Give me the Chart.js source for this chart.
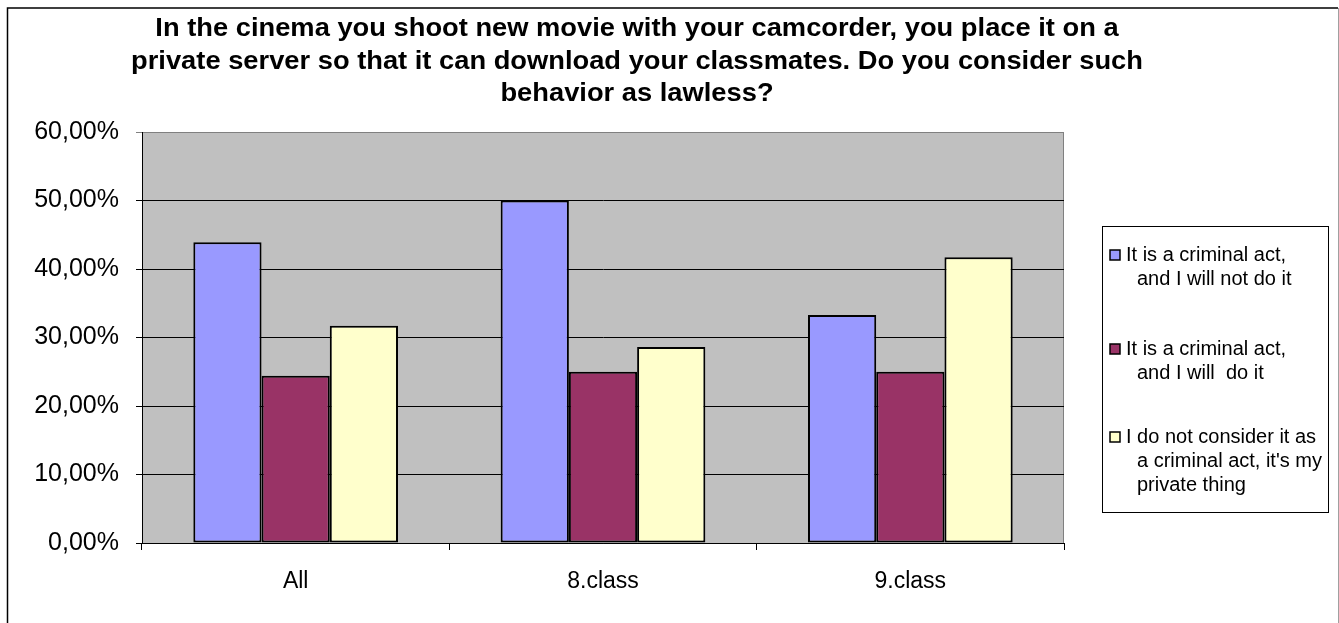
<!DOCTYPE html>
<html>
<head>
<meta charset="utf-8">
<script src="https://cdn.jsdelivr.net/npm/chart.js@4.4.1/dist/chart.umd.min.js"></script>
<style>
  html, body { margin: 0; padding: 0; background: #fff; }
  #wrap { width: 1339px; height: 623px; position: relative; }
</style>
</head>
<body>
<div id="wrap"><canvas id="c"></canvas></div>
<script>
"use strict";

// data
const categories = ["All", "8.class", "9.class"];
const criminalNotDo = [43.9, 50.0, 33.3];
const criminalDo = [24.4, 25.0, 25.0];
const notCriminal = [31.7, 28.6, 41.7];
const seriesLines = [
  ["It is a criminal act,", "and I will not do it"],
  ["It is a criminal act,", "and I will  do it"],
  ["I do not consider it as", "a criminal act, it's my", "private thing"],
];
const titleLines = [
  "In the cinema you shoot new movie with your camcorder, you place it on a",
  "private server so that it can download your classmates. Do you consider such",
  "behavior as lawless?",
];
const yTicks = [0, 10, 20, 30, 40, 50, 60];

// excel-ish palette
const C_BLUE = "#9999FF";
const C_PLUM = "#993366";
const C_CREAM = "#FFFFCC";
const C_PLOT = "#C0C0C0";
const FONT = '"Liberation Sans", Arial, Helvetica, sans-serif';

const frame = {
  id: "frame",
  beforeDraw(chart) {
    const { ctx, chartArea: a } = chart;
    ctx.save();
    ctx.fillStyle = "#fff";
    ctx.fillRect(0, 0, chart.width, chart.height);
    // outer chart border
    ctx.strokeStyle = "#000";
    ctx.lineWidth = 1.5;
    ctx.beginPath();
    ctx.moveTo(7.5, chart.height + 2);
    ctx.lineTo(7.5, 8);
    ctx.lineTo(1338, 8);
    ctx.stroke();
    ctx.strokeStyle = "#a0a0a0";
    ctx.lineWidth = 1;
    ctx.beginPath();
    ctx.moveTo(1338.5, 8);
    ctx.lineTo(1338.5, chart.height + 2);
    ctx.stroke();
    // plot area
    ctx.fillStyle = C_PLOT;
    ctx.fillRect(a.left, a.top, a.right - a.left, a.bottom - a.top);
    ctx.strokeStyle = "#808080";
    ctx.lineWidth = 1;
    ctx.strokeRect(a.left + 0.5, a.top + 0.5, a.right - a.left - 1, a.bottom - a.top);
    ctx.restore();
  },
  afterDraw(chart) {
    const { ctx } = chart;
    ctx.save();
    // title (slightly widened, like the exported excel picture)
    ctx.fillStyle = "#000";
    ctx.font = "bold 26px " + FONT;
    ctx.textAlign = "center";
    ctx.textBaseline = "middle";
    titleLines.forEach((t, i) => {
      ctx.save();
      ctx.translate(637, 29 + i * 32.5);
      ctx.scale(1.05, 1);
      ctx.fillText(t, 0, 0);
      ctx.restore();
    });

    // legend
    const bx = 1102, by = 226, bw = 226, bh = 286;
    ctx.fillStyle = "#fff";
    ctx.fillRect(bx, by, bw, bh);
    ctx.strokeStyle = "#000";
    ctx.lineWidth = 1;
    ctx.strokeRect(bx + 0.5, by + 0.5, bw, bh);
    const starts = [255, 349, 437];
    const lh = 24;
    ctx.font = "20px " + FONT;
    ctx.textAlign = "left";
    chart.data.datasets.forEach((ds, i) => {
      const y0 = starts[i];
      ctx.fillStyle = ds.backgroundColor;
      ctx.fillRect(1110, y0 - 5, 10, 10);
      ctx.strokeStyle = "#000";
      ctx.lineWidth = 1.5;
      ctx.strokeRect(1110, y0 - 5, 10, 10);
      ctx.fillStyle = "#000";
      seriesLines[i].forEach((line, j) => {
        ctx.fillText(line, j === 0 ? 1126 : 1126 + 11, y0 + j * lh);
      });
    });
    ctx.restore();
  },
};

new Chart(document.getElementById("c"), {
  type: "bar",
  data: {
    labels: categories,
    datasets: [
      { label: seriesLines[0].join(" "), data: criminalNotDo, backgroundColor: C_BLUE },
      { label: seriesLines[1].join(" "), data: criminalDo, backgroundColor: C_PLUM },
      { label: seriesLines[2].join(" "), data: notCriminal, backgroundColor: C_CREAM },
    ].map((d) => Object.assign(d, {
      borderColor: "#000",
      borderWidth: 2,
      borderSkipped: false,
      categoryPercentage: 0.666,
      barPercentage: 1,
    })),
  },
  options: {
    responsive: true,
    maintainAspectRatio: false,
    animation: false,
    layout: { padding: { top: 132, right: 275, left: 0, bottom: 0 } },
    plugins: {
      legend: { display: false },
      title: { display: false },
      tooltip: { enabled: false },
    },
    scales: {
      x: {
        grid: {
          offset: true,
          drawOnChartArea: false,
          drawTicks: true,
          tickLength: 7,
          color: "#000",
        },
        border: { display: true, color: "#000", width: 1 },
        ticks: { color: "#000", padding: 18, font: { family: FONT, size: 23 } },
        afterFit: (s) => { s.height = 80; },
      },
      y: {
        min: 0,
        max: 60,
        afterBuildTicks: (s) => { s.ticks = yTicks.map((v) => ({ value: v })); },
        grid: {
          color: (c) => (c.tick && c.tick.value === 60 ? "#808080" : "#000"),
          tickLength: 6,
          drawTicks: true,
        },
        border: { display: true, color: "#000", width: 1 },
        ticks: {
          color: "#000",
          padding: 17,
          font: { family: FONT, size: 25 },
          callback: (v) => v.toFixed(2).replace(".", ",") + "%",
        },
        afterFit: (s) => { s.width = 142; },
      },
    },
  },
  plugins: [frame],
});
</script>
</body>
</html>
